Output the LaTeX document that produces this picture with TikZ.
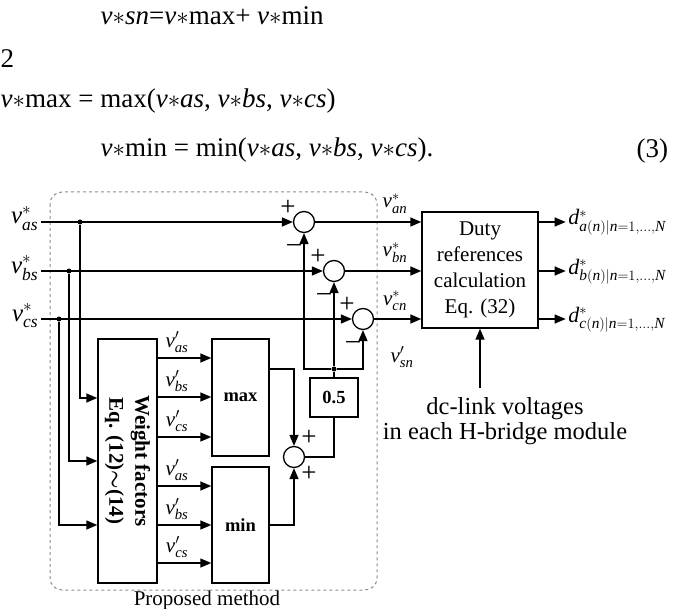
\documentclass[tikz,border=0pt]{standalone}
\usepackage{fontspec}
\setmainfont{Liberation Serif}
\usepackage{amsmath}
\usetikzlibrary{arrows.meta,positioning,calc}
\definecolor{PMGray}{HTML}{8C8C8C}

\newcommand{\sig}[3]{$\textit{#1}^{#2}_{\textit{#3}}$}
\newcommand{\vst}{\textit{v}$\ast$}

\begin{document}
\begin{tikzpicture}[x=1pt,y=-1pt,line width=1.4pt,
    font=\fontsize{21}{26}\selectfont,
    arr/.style={-{Triangle[length=11pt,width=9pt]}},
    blk/.style={draw,rectangle,inner sep=0pt},
    sumnode/.style={draw,circle,minimum size=21pt,inner sep=0pt,line width=1.3pt},
    jdot/.style={circle,fill,inner sep=0pt,minimum size=5pt},
    lab/.style={inner sep=0pt},
    sgn/.style={inner sep=0pt,font=\fontsize{27}{27}\selectfont},
    eqn/.style={font=\fontsize{27}{32}\selectfont,anchor=base west,inner sep=0pt}]

\useasboundingbox (0,0) rectangle (676,609);

% equations above the figure
\node[eqn] (eqsn) at (100,25) {\vst\textit{sn}=\vst max+ \vst min};
\node[eqn] (eqtwo) at (0,68) {2};
\node[eqn] (eqmax) at (0,108) {\vst max = max(\vst\textit{as}, \vst\textit{bs}, \vst\textit{cs})};
\node[eqn] (eqmin) at (100,157) {\vst min = min(\vst\textit{as}, \vst\textit{bs}, \vst\textit{cs}).};
\node[eqn] (eqno) at (636,158) {(3)};

% proposed method frame
\draw[PMGray,dashed,line width=1pt,rounded corners=12pt] (50,192) rectangle (377,590);
\node (pm) at (207,600) {Proposed method};

% inputs
\coordinate (ina) at (41,222);
\coordinate (inb) at (41,271);
\coordinate (inc) at (41,319);
\node[lab,anchor=base east,font=\fontsize{25}{30}\selectfont] (vas) at (39,224) {\sig{v}{*}{as}};
\node[lab,anchor=base east,font=\fontsize{25}{30}\selectfont] (vbs) at (39,273) {\sig{v}{*}{bs}};
\node[lab,anchor=base east,font=\fontsize{25}{30}\selectfont] (vcs) at (39,321) {\sig{v}{*}{cs}};

\node[jdot] (ja) at (80,222) {};
\node[jdot] (jb) at (69,271) {};
\node[jdot] (jc) at (59,319) {};

% blocks
\node[blk,minimum width=59pt,minimum height=244pt] (wf) at (127.5,461) {};
\node[rotate=-90,align=center,font=\fontsize{21}{26}\selectfont\bfseries] (wftext) at (wf.center)
  {Weight factors\\Eq. (12)$\boldsymbol{\sim}$(14)};
\node[blk,minimum width=57pt,minimum height=117pt,font=\fontsize{18.5}{22}\selectfont\bfseries] (mx) at (240.5,397.5) {max};
\node[blk,minimum width=57pt,minimum height=116pt,font=\fontsize{18.5}{22}\selectfont\bfseries] (mn) at (240.5,525) {min};
\node[blk,minimum width=48pt,minimum height=39pt,font=\fontsize{18.5}{22}\selectfont\bfseries] (half) at (334,397.5) {0.5};
\node[blk,minimum width=116pt,minimum height=116pt,align=center] (duty) at (480,270)
  {Duty\\references\\calculation\\Eq. (32)};

\node[sumnode] (s1) at (304,222) {};
\node[sumnode] (s2) at (334,271) {};
\node[sumnode] (s3) at (363,319) {};
\node[sumnode] (s4) at (294,457) {};
\node[jdot] (jn) at (334,369) {};

% signs
\foreach \s in {s1,s2,s3}{
  \node[sgn] at ($(\s)+(-16,-14)$) {+};
  \node[sgn] at ($(\s)+(-10,26)$) {–};
}
\node[sgn] at ($(s4)+(15,-19)$) {+};
\node[sgn] at ($(s4)+(15,17)$) {+};

% input lines
\draw[arr] (ina) -- (s1);
\draw[arr] (inb) -- (s2);
\draw[arr] (inc) -- (s3);
\draw[arr] (ja) |- ([yshift=63pt]wf.west);
\draw[arr] (jb) |- (wf.west);
\draw[arr] (jc) |- ([yshift=-64pt]wf.west);

% weighted signals
\foreach \yy/\ph in {358/as,397/bs,437/cs}{
  \draw[arr] (wf.east|-0,\yy) -- (mx.west|-0,\yy)
    node[lab,pos=0.36,anchor=base,yshift=11pt] {\sig{v}{\prime}{\ph}};
}
\foreach \yy/\ph in {486/as,525/bs,563/cs}{
  \draw[arr] (wf.east|-0,\yy) -- (mn.west|-0,\yy)
    node[lab,pos=0.36,anchor=base,yshift=11pt] {\sig{v}{\prime}{\ph}};
}

% offset voltage
\draw[arr] (mx.east|-0,369) -| (s4.north);
\draw[arr] (mn.east) -| (s4.south);
\draw (s4.east) -| (half.south);
\draw (half.north) -- (jn);
\draw[arr] (jn) -| (s1.south);
\draw[arr] (jn) -- (s2.south);
\draw[arr] (jn) -| (s3.south);

% to duty block
\draw[arr] (s1) -- (duty.west|-s1);
\draw[arr] (s2) -- (duty.west|-s2);
\draw[arr] (s3) -- (duty.west|-s3);
\node[lab,anchor=base] (van) at (395,208) {\sig{v}{*}{an}};
\node[lab,anchor=base] (vbn) at (395,257) {\sig{v}{*}{bn}};
\node[lab,anchor=base] (vcn) at (395,305) {\sig{v}{*}{cn}};
\node[lab,anchor=base] (vsn) at (402,362) {\sig{v}{\prime}{sn}};

% duty outputs
\foreach \s/\ph in {s1/a,s2/b,s3/c}{
  \draw[arr] (duty.east|-\s) -- ++(27,0)
    node[lab,anchor=base west,yshift=-3pt,xshift=2pt,font=\fontsize{22}{26}\selectfont]
    {\textit{d}$^{*}_{\textit{\ph}(\textit{n})|\textit{n}=1,\ldots,\textit{N}}$};
}

% dc-link input
\coordinate (dcl) at (480,388);
\draw[arr] (dcl) -- (duty.south);
\node[align=center,font=\fontsize{24.5}{25}\selectfont] (dctext) at (505,421)
  {dc-link voltages\\in each H-bridge module};

\end{tikzpicture}
\end{document}
